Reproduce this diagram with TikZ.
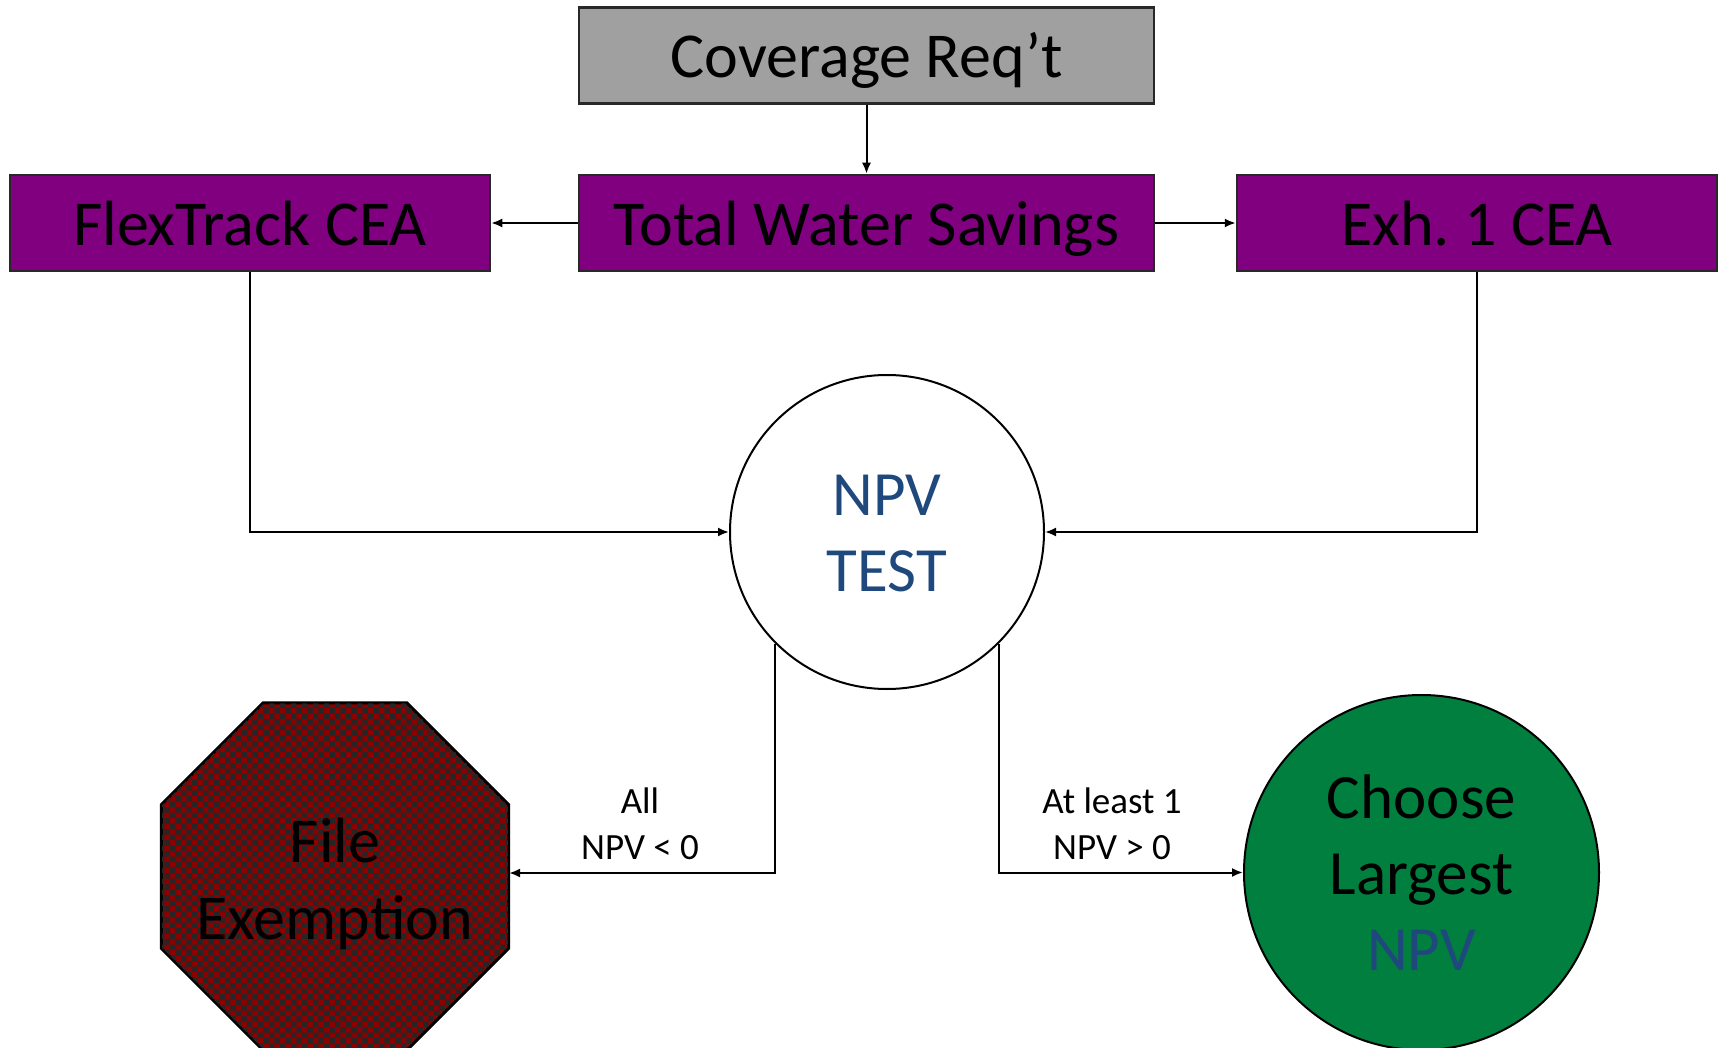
\documentclass[tikz,border=0pt]{standalone}
\usepackage{fontspec}
\setmainfont{Carlito}
\usetikzlibrary{arrows.meta,shapes.geometric,patterns}
\definecolor{boxpurple}{RGB}{128,0,128}
\definecolor{boxgray}{RGB}{160,160,160}
\definecolor{okgreen}{RGB}{0,127,62}
\definecolor{stopred}{RGB}{200,0,0}
\definecolor{npvblue}{RGB}{31,73,125}
\definecolor{edge}{RGB}{40,40,40}
\tikzset{
  box/.style={draw=edge, line width=2.5pt, rectangle, inner sep=0pt, minimum height=96pt,
    text height=45pt, text depth=0pt, font=\fontsize{64}{76}\selectfont},
  link/.style={line width=2pt, -{Latex[length=11pt,width=9pt]}},
  cond/.style={align=center, font=\fontsize{37}{46}\selectfont}
}
\begin{document}
\begin{tikzpicture}[x=1pt,y=-1pt]
\useasboundingbox (0,0) rectangle (1719,1048);
\node[box, fill=boxgray, minimum width=575pt] (cov) at (866.5,55.5) {Coverage Req’t};
\node[box, fill=boxpurple, minimum width=575pt] (tws) at (866.5,223) {Total Water Savings};
\node[box, fill=boxpurple, minimum width=480pt] (flex) at (250,223) {FlexTrack CEA};
\node[box, fill=boxpurple, minimum width=480pt] (exh) at (1477,223) {Exh.\ 1 CEA};
\node[circle, draw=black, line width=2pt, fill=white, minimum size=314pt, inner sep=0pt] (npv) at (887,532) {};
\node[align=center, text=npvblue, font=\fontsize{63}{76}\selectfont] (npvtext) at (887,534) {NPV\\TEST};
\node[regular polygon, regular polygon sides=8, minimum size=374.6pt, inner sep=0pt,
  draw=black, line width=2pt, fill=stopred!70!black] (oct) at (335,876.5) {};
\fill[pattern=checkerboard, pattern color=black!85] (oct.corner 1) -- (oct.corner 2) -- (oct.corner 3) -- (oct.corner 4) -- (oct.corner 5) -- (oct.corner 6) -- (oct.corner 7) -- (oct.corner 8) -- cycle;
\draw[black, line width=2pt] (oct.corner 1) -- (oct.corner 2) -- (oct.corner 3) -- (oct.corner 4) -- (oct.corner 5) -- (oct.corner 6) -- (oct.corner 7) -- (oct.corner 8) -- cycle;
\node[align=center, font=\fontsize{64}{77}\selectfont] (octtext) at (335,884) {File\\Exemption};
\node[circle, draw=black, line width=2pt, fill=okgreen, minimum size=355pt, inner sep=0pt,
  align=center, font=\fontsize{63}{76}\selectfont] (choose) at (1421.5,872.5) {Choose\\Largest\\\textcolor{npvblue}{NPV}};
\draw[link] (cov) -- (tws);
\draw[link] (tws) -- (flex);
\draw[link] (tws) -- (exh);
\draw[link] (flex.south) |- (npv.west);
\draw[link] (exh.south) |- (npv.east);
\draw[link] (npv.-135) |- ([yshift=3.5pt]oct.east);
\draw[link] (npv.-45) |- (choose.west);
\node[cond] (lblall) at (640,824) {All\\NPV < 0};
\node[cond] (lblone) at (1112,824) {At least 1\\NPV > 0};
\end{tikzpicture}
\end{document}
